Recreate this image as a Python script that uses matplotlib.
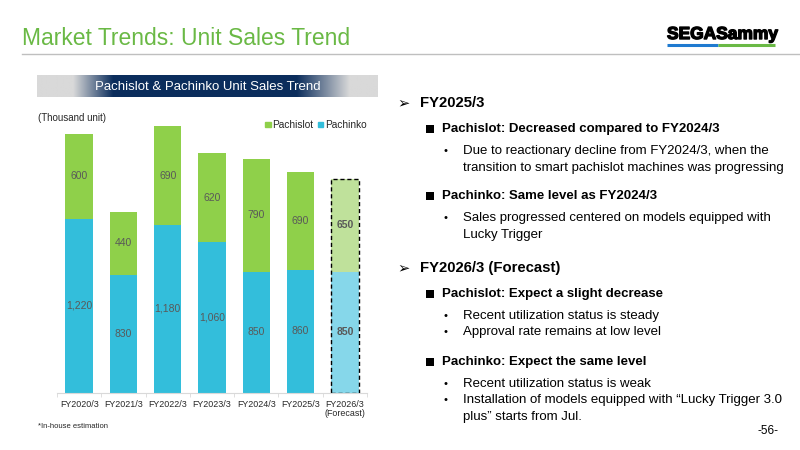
import matplotlib.pyplot as plt
import matplotlib.patheffects as pe
import numpy as np
from matplotlib import colors as mcolors

plt.rcParams['font.family'] = ['Liberation Sans', 'DejaVu Sans']

# data (thousand units)
years = ["FY2020/3", "FY2021/3", "FY2022/3", "FY2023/3", "FY2024/3", "FY2025/3", "FY2026/3\n(Forecast)"]
pachislot = [600, 440, 690, 620, 790, 690, 650]
pachinko = [1220, 830, 1180, 1060, 850, 860, 850]
is_forecast = [False, False, False, False, False, False, True]

green = "#8fd04a"
blue = "#33bedb"
green_fc = "#bfe19b"
blue_fc = "#86d7ea"
label_col = "#595959"

fig = plt.figure(figsize=(8, 4.5), dpi=100)

# overlay in pixel coordinates for slide decorations
bg = fig.add_axes([0, 0, 1, 1])
bg.set_xlim(0, 800)
bg.set_ylim(450, 0)
bg.axis("off")

bg.text(22, 38.5, "Market Trends: Unit Sales Trend", fontsize=16.5, color="#6ab945",
        va="center", ha="left")
bg.plot([22, 800], [54, 54], color="#bfbfbf", lw=1)

# logo
bg.text(667, 34.5, "SEGASammy", fontsize=12.5, fontweight="bold", color="black",
        ha="left", va="center",
        path_effects=[pe.withStroke(linewidth=1.0, foreground="black")])
bg.plot([667, 718], [44.5, 44.5], color="#1f7ad0", lw=2.2, solid_capstyle="butt")
bg.plot([718, 775], [44.5, 44.5], color="#6ab945", lw=2.2, solid_capstyle="butt")

# chart header with gradient
xs = np.linspace(37, 378, 400)
t = np.interp(xs, [37, 73, 113, 297, 350, 378], [0, 0, 1, 1, 0, 0])
c0 = np.array(mcolors.to_rgb("#d9d9d9"))
c1 = np.array(mcolors.to_rgb("#0b2d5c"))
grad = (c0[None, :] * (1 - t[:, None]) + c1[None, :] * t[:, None])[None, :, :]
bg.imshow(grad, extent=[37, 378, 97, 75], aspect="auto", zorder=1)
bg.set_xlim(0, 800)
bg.set_ylim(450, 0)
bg.text(208, 86.5, "Pachislot & Pachinko Unit Sales Trend", fontsize=9.5, color="white",
        ha="center", va="center", zorder=2)

bg.text(38, 118, "(Thousand unit)", fontsize=7, color="#262626", va="center")
bg.text(38, 427, "*In-house estimation", fontsize=5.5, color="#262626", va="center")

# chart axes
ax = fig.add_axes([57 / 800, (450 - 392.7) / 450, 310 / 800, 284.8 / 450])
ax.patch.set_alpha(0)
x = np.arange(len(years))
w = 0.62
for i in x:
    gc = green_fc if is_forecast[i] else green
    bc = blue_fc if is_forecast[i] else blue
    ax.bar(i, pachinko[i], w, color=bc, zorder=2)
    ax.bar(i, pachislot[i], w, bottom=pachinko[i], color=gc, zorder=2)
    fw = "bold" if is_forecast[i] else "normal"
    ax.text(i, pachinko[i] / 2, f"{pachinko[i]:,}", ha="center", va="center",
            fontsize=7.5, color=label_col, fontweight=fw, zorder=3)
    ax.text(i, pachinko[i] + pachislot[i] / 2, f"{pachislot[i]:,}", ha="center", va="center",
            fontsize=7.5, color=label_col, fontweight=fw, zorder=3)
    if is_forecast[i]:
        ax.bar(i, pachinko[i] + pachislot[i], w, fill=False, edgecolor="black",
               linestyle=(0, (3, 2)), lw=1, zorder=4)

ax.set_xlim(-0.5, len(years) - 0.5)
ax.set_ylim(0, 2000)
ax.set_yticks([])
for s in ["top", "right", "left"]:
    ax.spines[s].set_visible(False)
ax.spines["bottom"].set_color("#d9d9d9")
ax.set_xticks(x)
ax.set_xticklabels(years, fontsize=6.4, color="#262626", linespacing=1.1)
ax.tick_params(axis="x", length=0, pad=5)
ax.set_xticks(np.arange(-0.5, len(years)), minor=True)
ax.tick_params(axis="x", which="minor", length=3, color="#d9d9d9")

# legend
bg.add_patch(plt.Rectangle((265, 121.5), 5.5, 5.5, color=green))
bg.text(272.5, 124.5, "Pachislot", fontsize=7.3, color="#262626", va="center")
bg.add_patch(plt.Rectangle((317.5, 121.5), 5.5, 5.5, color=blue))
bg.text(325.5, 124.5, "Pachinko", fontsize=7.3, color="#262626", va="center")

# right-side commentary
fs_h = 10.7
fs_b = 9.5
lines = [
    ("arrow", 103, "FY2025/3"),
    ("square", 129, "Pachislot: Decreased compared to FY2024/3"),
    ("dot", 151, "Due to reactionary decline from FY2024/3, when the"),
    ("cont", 168, "transition to smart pachislot machines was progressing"),
    ("square", 196, "Pachinko: Same level as FY2024/3"),
    ("dot", 218, "Sales progressed centered on models equipped with"),
    ("cont", 235, "Lucky Trigger"),
    ("arrow", 268, "FY2026/3 (Forecast)"),
    ("square", 294, "Pachislot: Expect a slight decrease"),
    ("dot", 316, "Recent utilization status is steady"),
    ("dot", 332, "Approval rate remains at low level"),
    ("square", 362, "Pachinko: Expect the same level"),
    ("dot", 384, "Recent utilization status is weak"),
    ("dot", 400, "Installation of models equipped with \u201cLucky Trigger 3.0"),
    ("cont", 417, "plus\u201d starts from Jul."),
]
for kind, y, txt in lines:
    if kind == "arrow":
        bg.text(397, y, "\u27a2", fontsize=10.5, color="black", va="center",
                family=['DejaVu Sans'])
        bg.text(420, y, txt, fontsize=fs_h, fontweight="bold", color="black", va="center")
    elif kind == "square":
        bg.add_patch(plt.Rectangle((426, y - 4.5), 8, 8, color="black", lw=0))
        bg.text(442, y, txt, fontsize=fs_b, fontweight="bold", color="black", va="center")
    elif kind == "dot":
        bg.text(443, y, "\u2022", fontsize=8, color="black", va="center")
        bg.text(463, y, txt, fontsize=fs_b, color="black", va="center")
    else:
        bg.text(463, y, txt, fontsize=fs_b, color="black", va="center")

bg.text(778, 431, "-56-", fontsize=8.5, color="black", ha="right", va="center")

fig.savefig("out.png", dpi=100)
